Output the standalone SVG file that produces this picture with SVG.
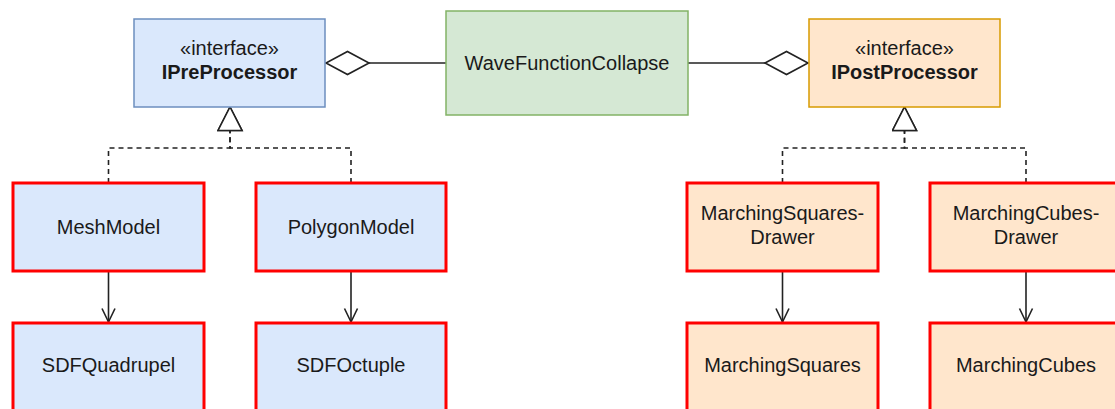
<svg xmlns="http://www.w3.org/2000/svg" width="1115" height="409" viewBox="0 0 1115 409">
<style>
  .t { font-family: "Liberation Sans", Arial, Helvetica, sans-serif; font-size: 20px; fill: #1a1a1a; text-anchor: middle; }
  .b { font-weight: bold; }
  .blue { fill: #dae8fc; stroke: #6c8ebf; stroke-width: 1.5; }
  .green { fill: #d5e8d4; stroke: #82b366; stroke-width: 1.5; }
  .orange { fill: #ffe6cc; stroke: #d79b00; stroke-width: 1.5; }
  .blueR { fill: #dae8fc; stroke: #ff0000; stroke-width: 3; }
  .orangeR { fill: #ffe6cc; stroke: #ff0000; stroke-width: 3; }
  .line { fill: none; stroke: #222; stroke-width: 1.6; }
  .dash { stroke-dasharray: 5 4; }
</style>
<defs>
  <marker id="open" markerUnits="userSpaceOnUse" markerWidth="18" markerHeight="18" refX="15" refY="8" orient="auto">
    <path d="M1.5,1.5 L15,8 L1.5,14.5" fill="none" stroke="#222" stroke-width="1.6"/>
  </marker>
  <marker id="tri" markerUnits="userSpaceOnUse" markerWidth="28" markerHeight="28" refX="25" refY="13" orient="auto">
    <path d="M1.5,1 L25,13 L1.5,25 Z" fill="#ffffff" stroke="#222" stroke-width="1.6"/>
  </marker>
  <marker id="dia" markerUnits="userSpaceOnUse" markerWidth="48" markerHeight="28" refX="45" refY="13" orient="auto">
    <path d="M2,13 L23.5,1.5 L45,13 L23.5,24.5 Z" fill="#ffffff" stroke="#222" stroke-width="1.6"/>
  </marker>
</defs>

<g id="connectors">
  <path class="line" d="M446,63 H326" marker-end="url(#dia)"/>
  <path class="line" d="M688,63 H808" marker-end="url(#dia)"/>
  <path class="line dash" d="M108.5,183 V148 H230 V107" marker-end="url(#tri)"/>
  <path class="line dash" d="M351,183 V148 H230 V107" marker-end="url(#tri)"/>
  <path class="line dash" d="M782.5,183 V148 H904.5 V107" marker-end="url(#tri)"/>
  <path class="line dash" d="M1026,183 V148 H904.5 V107" marker-end="url(#tri)"/>
  <path class="line" d="M108.5,271 V322" marker-end="url(#open)"/>
  <path class="line" d="M351,271 V322" marker-end="url(#open)"/>
  <path class="line" d="M782.5,271 V322" marker-end="url(#open)"/>
  <path class="line" d="M1026,271 V322" marker-end="url(#open)"/>
</g>

<g id="IPreProcessor">
  <rect class="blue" x="134" y="19" width="191" height="88"/>
  <text class="t" x="229.5" y="55">«interface»</text>
  <text class="t b" x="229.5" y="79">IPreProcessor</text>
</g>
<g id="WaveFunctionCollapse">
  <rect class="green" x="446" y="11" width="242" height="104"/>
  <text class="t" x="567" y="70">WaveFunctionCollapse</text>
</g>
<g id="IPostProcessor">
  <rect class="orange" x="809" y="19" width="191" height="88"/>
  <text class="t" x="904.5" y="55">«interface»</text>
  <text class="t b" x="904.5" y="79">IPostProcessor</text>
</g>

<g id="MeshModel">
  <rect class="blueR" x="13" y="183" width="191" height="88"/>
  <text class="t" x="108.5" y="234">MeshModel</text>
</g>
<g id="PolygonModel">
  <rect class="blueR" x="256" y="183" width="190" height="88"/>
  <text class="t" x="351" y="234">PolygonModel</text>
</g>
<g id="SDFQuadrupel">
  <rect class="blueR" x="13" y="323" width="191" height="95"/>
  <text class="t" x="108.5" y="372">SDFQuadrupel</text>
</g>
<g id="SDFOctuple">
  <rect class="blueR" x="256" y="323" width="190" height="95"/>
  <text class="t" x="351" y="372">SDFOctuple</text>
</g>

<g id="MarchingSquaresDrawer">
  <rect class="orangeR" x="687" y="183" width="191" height="88"/>
  <text class="t" x="782.5" y="220">MarchingSquares-</text>
  <text class="t" x="782.5" y="244">Drawer</text>
</g>
<g id="MarchingCubesDrawer">
  <rect class="orangeR" x="930" y="183" width="192" height="88"/>
  <text class="t" x="1026" y="220">MarchingCubes-</text>
  <text class="t" x="1026" y="244">Drawer</text>
</g>
<g id="MarchingSquares">
  <rect class="orangeR" x="687" y="323" width="191" height="95"/>
  <text class="t" x="782.5" y="372">MarchingSquares</text>
</g>
<g id="MarchingCubes">
  <rect class="orangeR" x="930" y="323" width="192" height="95"/>
  <text class="t" x="1026" y="372">MarchingCubes</text>
</g>
</svg>
